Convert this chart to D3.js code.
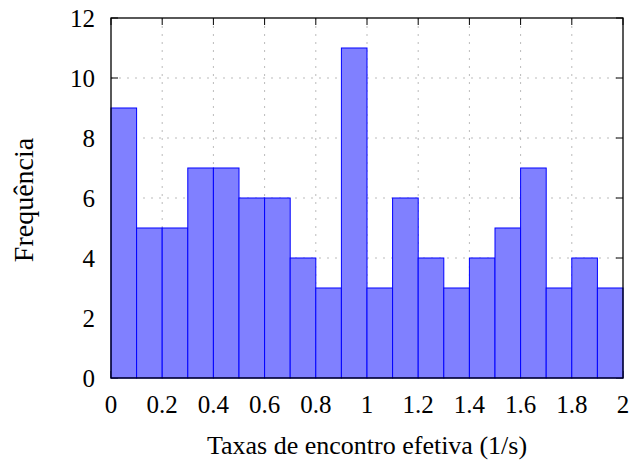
<!DOCTYPE html>
<html>
<head>
<meta charset="utf-8">
<script src="https://cdn.jsdelivr.net/npm/d3@7"></script>
<style>
  body { margin: 0; background: #fff; }
</style>
</head>
<body>
<script>
// Histogram data: 20 bins of width 0.1 between 0 and 2
const binStarts = d3.range(20).map(i => i / 10);
const binWidth = 0.1;
const counts = [9, 5, 5, 7, 7, 6, 6, 4, 3, 11, 3, 6, 4, 3, 4, 5, 7, 3, 4, 3];
const xTicks = [0, 0.2, 0.4, 0.6, 0.8, 1, 1.2, 1.4, 1.6, 1.8, 2];
const yTicks = [0, 2, 4, 6, 8, 10, 12];

const width = 633, height = 460;
const margin = { left: 111, right: 10, top: 18, bottom: 82 };
const innerW = width - margin.left - margin.right;
const innerH = height - margin.top - margin.bottom;
const serif = "'Liberation Serif', 'Times New Roman', Times, serif";

const svg = d3.select('body')
    .append('svg')
    .attr('width', width)
    .attr('height', height)
    .attr('font-family', serif)
    .style('font-family', serif);

const g = svg.append('g')
    .attr('transform', `translate(${margin.left},${margin.top})`);

const x = d3.scaleLinear().domain([0, 2]).range([0, innerW]);
const y = d3.scaleLinear().domain([0, 12]).range([innerH, 0]);

// Dashed grid
g.append('g')
    .selectAll('line')
    .data(xTicks.slice(1, -1))
    .join('line')
    .attr('x1', d => x(d)).attr('x2', d => x(d))
    .attr('y1', 0).attr('y2', innerH)
    .attr('stroke', '#bbb')
    .attr('stroke-dasharray', '2,6');
g.append('g')
    .selectAll('line')
    .data(yTicks.slice(1, -1))
    .join('line')
    .attr('x1', 0).attr('x2', innerW)
    .attr('y1', d => y(d)).attr('y2', d => y(d))
    .attr('stroke', '#bbb')
    .attr('stroke-dasharray', '2,6');

// Inward ticks on all four sides
const tickLen = 7;
const tickG = g.append('g').attr('stroke', '#000').attr('stroke-width', 1);
xTicks.forEach(d => {
    tickG.append('line').attr('x1', x(d)).attr('x2', x(d)).attr('y1', 0).attr('y2', tickLen);
    tickG.append('line').attr('x1', x(d)).attr('x2', x(d)).attr('y1', innerH).attr('y2', innerH - tickLen);
});
yTicks.forEach(d => {
    tickG.append('line').attr('x1', 0).attr('x2', tickLen).attr('y1', y(d)).attr('y2', y(d));
    tickG.append('line').attr('x1', innerW).attr('x2', innerW - tickLen).attr('y1', y(d)).attr('y2', y(d));
});

// Bars
g.append('g')
    .selectAll('rect')
    .data(counts)
    .join('rect')
    .attr('x', (d, i) => x(binStarts[i]))
    .attr('width', (d, i) => x(binStarts[i] + binWidth) - x(binStarts[i]))
    .attr('y', d => y(d))
    .attr('height', d => innerH - y(d))
    .attr('fill', '#8080ff')
    .attr('stroke', '#0000ff')
    .attr('stroke-width', 1);

// Frame
g.append('rect')
    .attr('width', innerW).attr('height', innerH)
    .attr('fill', 'none')
    .attr('stroke', '#000')
    .attr('stroke-width', 1.3);

// Tick labels
g.append('g')
    .selectAll('text')
    .data(xTicks)
    .join('text')
    .attr('x', d => x(d))
    .attr('y', innerH + 35)
    .attr('text-anchor', 'middle')
    .attr('font-size', 25)
    .text(d => d);

g.append('g')
    .selectAll('text')
    .data(yTicks)
    .join('text')
    .attr('x', -16)
    .attr('y', d => y(d))
    .attr('dy', '0.34em')
    .attr('text-anchor', 'end')
    .attr('font-size', 25)
    .text(d => d);

// Axis titles
svg.append('text')
    .attr('x', margin.left + innerW / 2)
    .attr('y', 454)
    .attr('text-anchor', 'middle')
    .attr('font-size', 26)
    .text('Taxas de encontro efetiva (1/s)');

svg.append('text')
    .attr('transform', `translate(33,${margin.top + innerH / 2 + 2}) rotate(-90)`)
    .attr('text-anchor', 'middle')
    .attr('font-size', 28)
    .text('Frequência');
</script>
</body>
</html>
